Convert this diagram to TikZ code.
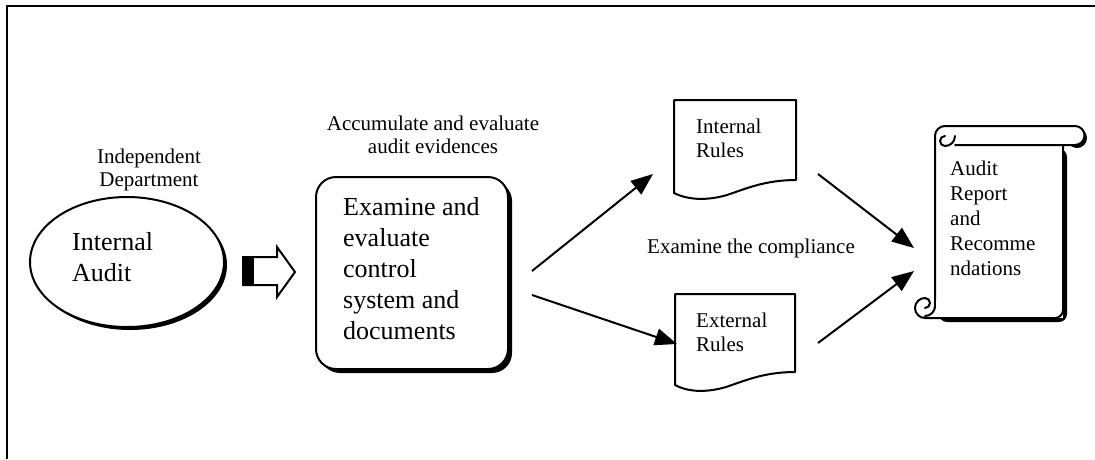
\documentclass[tikz,border=0pt]{standalone}
\usepackage{fontspec}
\setmainfont{Liberation Serif}
\usetikzlibrary{arrows.meta,shapes.geometric}
\newcommand\linesL[1]{\begin{tabular}[t]{@{}l@{}}#1\end{tabular}}
\newcommand\linesC[1]{\begin{tabular}[t]{@{}c@{}}#1\end{tabular}}

\begin{document}
\begin{tikzpicture}[x=1pt,y=-1pt,
  small/.style={font=\fontsize{21}{23}\selectfont, inner sep=0pt},
  doctext/.style={font=\fontsize{21}{24}\selectfont, inner sep=0pt},
  scrolltext/.style={font=\fontsize{21}{25}\selectfont, inner sep=0pt},
  big/.style={font=\fontsize{26}{31}\selectfont, inner sep=0pt},
  outline/.style={line width=2pt, line join=round, line cap=round},
  arr/.style={line width=2pt, -{Triangle[length=22pt,width=17pt]}}]

\useasboundingbox (0,0) rectangle (1095,459);

% page frame (top and left rules)
\draw[line width=2pt] (7,459) -- (7,6) -- (1095,6);

% ---- Internal Audit ellipse with drop shadow
\fill (130,265) ellipse [x radius=97, y radius=65];
\node[ellipse, draw, fill=white, line width=2pt, minimum width=194pt,
      minimum height=130pt, inner sep=0pt] (ia) at (127,262) {};
\node[big, anchor=base west] (iatxt) at (72,250) {\linesL{Internal\\Audit}};
\node[small, anchor=base] (indep) at (149,163) {\linesC{Independent\\Department}};

% ---- block arrow
\fill (243,257) rectangle (254,285);
\draw[outline, line join=miter] (243,257) -- (277,257) -- (277,247) -- (295,272)
      -- (277,297) -- (277,285) -- (243,285) -- cycle;

% ---- examine box with drop shadow
\fill[rounded corners=20pt] (320,181) rectangle (512,373);
\node[draw, fill=white, line width=2pt, rounded corners=20pt,
      minimum width=192pt, minimum height=192pt, inner sep=0pt] (exam) at (412,273) {};
\node[big, anchor=base west] (examtxt) at (343,215)
      {\linesL{Examine and\\evaluate\\control\\system and\\documents}};
\node[small, anchor=base] (accum) at (433,130) {\linesC{Accumulate and evaluate\\audit evidences}};

% ---- document shapes
\draw[outline, fill=white] (674,100) -- (796,100) -- (796,180)
   .. controls (765,180) and (745,189) .. (727,195)
   .. controls (710,200) and (690,201) .. (674,193) -- cycle;
\coordinate (intdoc) at (735,145);
\node[doctext, anchor=base west] (inttxt) at (696,133) {\linesL{Internal\\Rules}};

\draw[outline, fill=white] (675,294) -- (795,294) -- (795,372)
   .. controls (764,372) and (744,381) .. (726,387)
   .. controls (709,392) and (690,393) .. (675,385) -- cycle;
\coordinate (extdoc) at (735,335);
\node[doctext, anchor=base west] (exttxt) at (696,327) {\linesL{External\\Rules}};

\node[small, anchor=base west] (compl) at (647,253) {Examine the compliance};

% ---- scroll (report)
% shadows
\fill[rounded corners=8pt] (939,149) rectangle (1067,322);
\fill (1077,138) circle [radius=10];
% body
\fill[white] (935,145) rectangle (1063,318);
\draw[outline, fill=white] (945,126) -- (1075,126)
   arc[start angle=-90, end angle=90, radius=9.5] -- (955,145);
\draw[outline] (1063,145) -- (1063,310) arc[start angle=0, end angle=90, radius=8] -- (925,318);
% top-left curl
\draw[outline] (935,300) -- (935,136) arc[start angle=180, end angle=270, radius=10];
\draw[outline] (955,136) arc[start angle=0, end angle=90, radius=10]
   arc[start angle=90, end angle=270, radius=5];
% bottom-left curl
\draw[outline] (935,300) -- (935,308);
\draw[outline, fill=white] (925,318) arc[start angle=90, end angle=270, radius=10]
   arc[start angle=-90, end angle=90, radius=5];
\draw[outline] (935,306) arc[start angle=0, end angle=90, radius=10];
\coordinate (scroll) at (1000,230);
\node[scrolltext, anchor=base west] (reptxt) at (950,175)
      {\linesL{Audit\\Report\\and\\Recomme\\ndations}};

% ---- connectors
\coordinate (e1) at (532,271);
\coordinate (t1) at (653,174);
\coordinate (e2) at (532,295);
\coordinate (t2) at (677,344);
\coordinate (d1) at (818,174);
\coordinate (s1) at (914,248);
\coordinate (d2) at (818,343);
\coordinate (s2) at (914,271);
\draw[arr] (e1) -- (t1);
\draw[arr] (e2) -- (t2);
\draw[arr] (d1) -- (s1);
\draw[arr] (d2) -- (s2);
\end{tikzpicture}
\end{document}
